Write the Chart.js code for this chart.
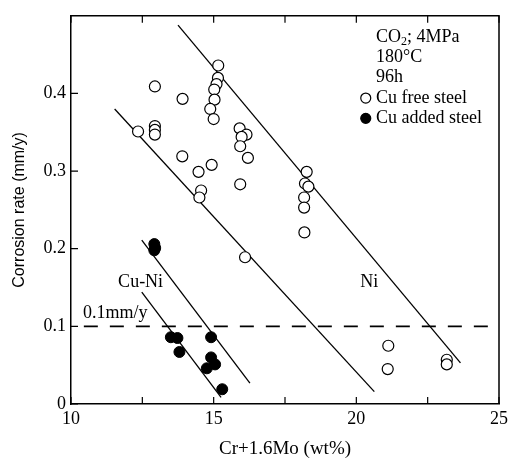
<!DOCTYPE html>
<html>
<head>
<meta charset="utf-8">
<script src="https://cdn.jsdelivr.net/npm/chart.js@4.4.1/dist/chart.umd.min.js"></script>
<style>
  html, body { margin: 0; padding: 0; background: #fff; }
  #wrap { width: 508px; height: 458px; }
</style>
</head>
<body>
<div id="wrap"><canvas id="chart_corrosionRate"></canvas></div>
<script>
// Cu free steel (open circles)
var freeX = [12.35, 12.94, 12.94, 12.94, 12.94, 13.91, 13.90, 14.47, 14.56, 14.50, 14.93,
             15.16, 15.15, 15.10, 15.02, 15.03, 14.88, 15.00,
             15.91, 16.15, 15.98, 15.93, 16.20, 15.93, 16.10,
             18.26, 18.20, 18.32, 18.17, 18.17, 18.18,
             21.12, 21.10, 23.17, 23.17];
var freeY = [0.351, 0.409, 0.358, 0.353, 0.347, 0.393, 0.319, 0.299, 0.275, 0.266, 0.308,
             0.436, 0.420, 0.412, 0.405, 0.392, 0.380, 0.367,
             0.355, 0.347, 0.344, 0.332, 0.317, 0.283, 0.189,
             0.299, 0.284, 0.280, 0.266, 0.253, 0.221,
             0.075, 0.045, 0.057, 0.051];

// Cu added steel (filled circles)
var addedX = [12.92, 12.95, 12.92, 13.50, 13.73, 13.80, 14.91, 14.91, 15.05, 14.76, 15.30];
var addedY = [0.206, 0.201, 0.198, 0.086, 0.085, 0.067, 0.086, 0.060, 0.051, 0.046, 0.019];

// trend lines (end points)
var niLineX = [13.75, 23.65];
var niLineY = [0.488, 0.053];
var baseLineX = [11.53, 20.63];
var baseLineY = [0.380, 0.016];
var cuNiUpperX = [12.48, 16.27];
var cuNiUpperY = [0.211, 0.027];
var cuNiLowerX = [12.48, 15.26];
var cuNiLowerY = [0.144, 0.0085];

// 0.1 mm/y limit
var limitX = [10.45, 25];
var limitY = [0.1, 0.1];

var xTicks = [10, 12.5, 15, 17.5, 20, 22.5, 25];
var yTicks = [0, 0.1, 0.2, 0.3, 0.4];

var legendLines = ['180°C', '96h'];
var seriesNames = ['Cu free steel', 'Cu added steel'];

function pts(xs, ys) {
    return xs.map(function (x, i) { return { x: x, y: ys[i] }; });
}

var serif = 'Liberation Serif';

function lineSet(xs, ys, dash, width) {
    return {
        type: 'line',
        data: pts(xs, ys),
        borderColor: '#000',
        borderWidth: width || 1.3,
        borderDash: dash || [],
        pointRadius: 0,
        fill: false
    };
}

var chart_corrosionRate = new Chart(document.getElementById('chart_corrosionRate'), {
    type: 'scatter',
    data: {
        datasets: [
            {
                label: seriesNames[0],
                data: pts(freeX, freeY),
                pointRadius: 5.5,
                pointBorderWidth: 1.2,
                pointBorderColor: '#000',
                pointBackgroundColor: '#fff'
            },
            {
                label: seriesNames[1],
                data: pts(addedX, addedY),
                pointRadius: 5.5,
                pointBorderWidth: 1,
                pointBorderColor: '#000',
                pointBackgroundColor: '#000'
            },
            lineSet(niLineX, niLineY),
            lineSet(baseLineX, baseLineY),
            lineSet(cuNiUpperX, cuNiUpperY),
            lineSet(cuNiLowerX, cuNiLowerY),
            lineSet(limitX, limitY, [14, 12], 1.8)
        ]
    },
    options: {
        animation: false,
        responsive: true,
        maintainAspectRatio: false,
        layout: { padding: { top: 13, right: 0, left: 0, bottom: 0 } },
        plugins: {
            legend: { display: false },
            tooltip: { enabled: false }
        },
        scales: {
            x: {
                type: 'linear',
                min: 10,
                max: 25,
                afterFit: function (scale) {
                    scale.height = 54;
                    scale.paddingRight = 9;
                    scale.paddingLeft = 0;
                },
                afterBuildTicks: function (scale) {
                    scale.ticks = xTicks.map(function (v) { return { value: v }; });
                },
                grid: { display: false, drawTicks: false },
                border: { display: true, color: '#000', width: 1.5 },
                ticks: {
                    padding: 4,
                    color: '#000',
                    font: { family: serif, size: 18 },
                    autoSkip: false,
                    maxRotation: 0,
                    callback: function (v) { return v % 5 === 0 ? String(v) : ''; }
                },
                title: {
                    display: true,
                    text: 'Cr+1.6Mo (wt%)',
                    color: '#000',
                    font: { family: serif, size: 19 },
                    padding: { top: 0, bottom: -2 }
                }
            },
            y: {
                type: 'linear',
                min: 0,
                max: 0.5,
                afterFit: function (scale) { scale.width = 71; },
                afterBuildTicks: function (scale) {
                    scale.ticks = yTicks.map(function (v) { return { value: v }; });
                },
                grid: { display: false, drawTicks: false },
                border: { display: true, color: '#000', width: 1.5 },
                ticks: {
                    padding: 5,
                    color: '#000',
                    font: { family: serif, size: 18 },
                    callback: function (v) { return String(Math.round(v * 10) / 10); }
                },
                title: {
                    display: true,
                    text: 'Corrosion rate (mm/y)',
                    color: '#000',
                    font: { family: 'Liberation Sans', size: 16 },
                    padding: { top: 10, bottom: 10 }
                }
            }
        }
    },
    plugins: [{
        id: 'frameAndNotes',
        beforeDraw: function (chart) {
            var ctx = chart.ctx;
            ctx.save();
            ctx.fillStyle = '#fff';
            ctx.fillRect(0, 0, chart.width, chart.height);
            ctx.restore();
        },
        afterDraw: function (chart) {
            var ctx = chart.ctx;
            var a = chart.chartArea;
            var xs = chart.scales.x, ys = chart.scales.y;
            ctx.save();
            ctx.strokeStyle = '#000';
            ctx.lineWidth = 1.5;
            // top and right frame
            ctx.beginPath();
            ctx.moveTo(a.left, a.top);
            ctx.lineTo(a.right, a.top);
            ctx.lineTo(a.right, a.bottom);
            ctx.stroke();
            // inward ticks
            ctx.lineWidth = 1.2;
            ctx.beginPath();
            xTicks.forEach(function (v) {
                var px = xs.getPixelForValue(v);
                ctx.moveTo(px, a.bottom); ctx.lineTo(px, a.bottom - 7);
                ctx.moveTo(px, a.top); ctx.lineTo(px, a.top + 7);
            });
            yTicks.forEach(function (v) {
                var py = ys.getPixelForValue(v);
                ctx.moveTo(a.left, py); ctx.lineTo(a.left + 7, py);
            });
            ctx.stroke();

            // annotations
            ctx.fillStyle = '#000';
            ctx.font = '18px "' + serif + '"';
            ctx.textBaseline = 'middle';
            ctx.textAlign = 'center';
            ctx.fillText('Cu-Ni', xs.getPixelForValue(12.44), ys.getPixelForValue(0.157));
            ctx.fillText('Ni', xs.getPixelForValue(20.45), ys.getPixelForValue(0.157));
            ctx.textAlign = 'left';
            ctx.fillText('0.1mm/y', xs.getPixelForValue(10.42), ys.getPixelForValue(0.1166));

            // legend block
            var lx = xs.getPixelForValue(20.69);
            var mx = xs.getPixelForValue(20.33);
            var y0 = ys.getPixelForValue(0.4725);
            var step = 20.3;
            ctx.fillText('CO', lx, y0);
            var w = ctx.measureText('CO').width;
            ctx.font = '12px "' + serif + '"';
            ctx.fillText('2', lx + w, y0 + 5);
            var w2 = ctx.measureText('2').width;
            ctx.font = '18px "' + serif + '"';
            ctx.fillText('; 4MPa', lx + w + w2, y0);
            legendLines.forEach(function (t, i) {
                ctx.fillText(t, lx, y0 + step * (i + 1));
            });
            seriesNames.forEach(function (t, i) {
                var yy = y0 + step * (i + 3);
                ctx.fillText(t, lx, yy);
                ctx.beginPath();
                ctx.arc(mx, yy, 5, 0, Math.PI * 2);
                ctx.fillStyle = i === 0 ? '#fff' : '#000';
                ctx.fill();
                ctx.lineWidth = 1.2;
                ctx.stroke();
                ctx.fillStyle = '#000';
            });
            ctx.restore();
        }
    }]
});
</script>
</body>
</html>
